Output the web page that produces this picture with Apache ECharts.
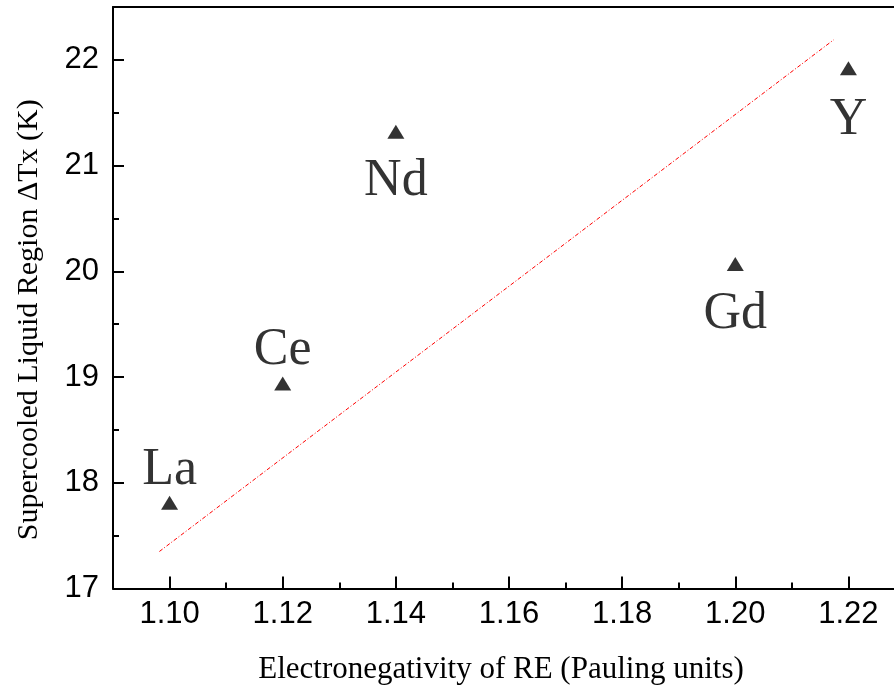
<!DOCTYPE html>
<html><head><meta charset="utf-8">
<script src="https://cdn.jsdelivr.net/npm/echarts@6/dist/echarts.min.js"></script>
<style>html,body{margin:0;padding:0;background:#fff}#c{width:894px;height:690px}</style>
</head><body><div id="c"></div>
<script>
const elements = ['La', 'Ce', 'Nd', 'Gd', 'Y'];
const electronegativity = [1.10, 1.12, 1.14, 1.20, 1.22];
const deltaTx = [17.81, 18.94, 21.32, 20.07, 21.92];
const xMajorTicks = [1.10, 1.12, 1.14, 1.16, 1.18, 1.20, 1.22];
const xMinorTicks = [1.11, 1.13, 1.15, 1.17, 1.19, 1.21];
const yMajorTicks = [17, 18, 19, 20, 21, 22];
const yMinorTicks = [17.5, 18.5, 19.5, 20.5, 21.5];
const trendX = [1.0982, 1.2174];
const trendY = [17.35, 22.19];
const labelsAbove = ['La', 'Ce'];

const chart = echarts.init(document.getElementById('c'), null, {renderer: 'canvas'});
const black = '#000';
const tickFont = {fontFamily: 'Liberation Sans', fontSize: 31, color: black};
const serif = 'Liberation Serif';

const pts = elements.map((n, i) => {
  const above = labelsAbove.indexOf(n) >= 0;
  return {
    value: [electronegativity[i], deltaTx[i]],
    name: n,
    label: {position: above ? 'top' : 'bottom', distance: above ? 0 : (n === 'Y' ? 19 : 17)}
  };
});

chart.setOption({
  animation: false,
  backgroundColor: '#fff',
  grid: {left: 113, top: 7, right: -11, bottom: 101.5, containLabel: false, outerBoundsMode: 'none'},
  xAxis: [
    {type: 'value', position: 'bottom', min: 1.09, max: 1.23,
     axisLine: {show: true, lineStyle: {color: black, width: 2}},
     axisTick: {show: true, inside: true, length: 12, lineStyle: {color: black, width: 2}, customValues: xMajorTicks},
     axisLabel: {margin: 10, customValues: xMajorTicks, formatter: v => v.toFixed(2), ...tickFont},
     splitLine: {show: false},
     name: 'Electronegativity of RE (Pauling units)', nameLocation: 'middle', nameGap: 66,
     nameTextStyle: {fontFamily: serif, fontSize: 31, color: black, padding: [0, 16, 0, 0]}},
    {type: 'value', position: 'bottom', min: 1.09, max: 1.23,
     axisLine: {show: false},
     axisTick: {show: true, inside: true, length: 6, lineStyle: {color: black, width: 2}, customValues: xMinorTicks},
     axisLabel: {show: false}, splitLine: {show: false}},
    {type: 'value', position: 'top', min: 1.09, max: 1.23,
     axisLine: {show: true, lineStyle: {color: black, width: 2}},
     axisTick: {show: false}, axisLabel: {show: false}, splitLine: {show: false}}
  ],
  yAxis: [
    {type: 'value', position: 'left', min: 17, max: 22.5, interval: 1,
     axisLine: {show: true, lineStyle: {color: black, width: 2}},
     axisTick: {show: true, inside: true, length: 11, lineStyle: {color: black, width: 2}, customValues: yMajorTicks},
     axisLabel: {margin: 14, customValues: yMajorTicks, ...tickFont},
     splitLine: {show: false},
     name: 'Supercooled Liquid Region \u0394Tx (K)', nameLocation: 'middle', nameGap: 69, nameRotate: 90,
     nameTextStyle: {fontFamily: serif, fontSize: 30, color: black, padding: [0, 44, 0, 0]}},
    {type: 'value', position: 'left', min: 17, max: 22.5,
     axisLine: {show: false},
     axisTick: {show: true, inside: true, length: 6, lineStyle: {color: black, width: 2}, customValues: yMinorTicks},
     axisLabel: {show: false}, splitLine: {show: false}}
  ],
  series: [
    {type: 'line', xAxisIndex: 0, yAxisIndex: 0, silent: true, showSymbol: false,
     data: trendX.map((x, i) => [x, trendY[i]]),
     lineStyle: {color: '#ff0000', width: 1, type: [4, 2, 1, 2]}},
    {type: 'scatter', xAxisIndex: 0, yAxisIndex: 0, symbol: 'triangle', symbolSize: [17, 14],
     itemStyle: {color: black},
     label: {show: true, formatter: p => p.name, fontFamily: serif, fontSize: 52, color: black},
     data: pts}
  ]
});
</script></body></html>
